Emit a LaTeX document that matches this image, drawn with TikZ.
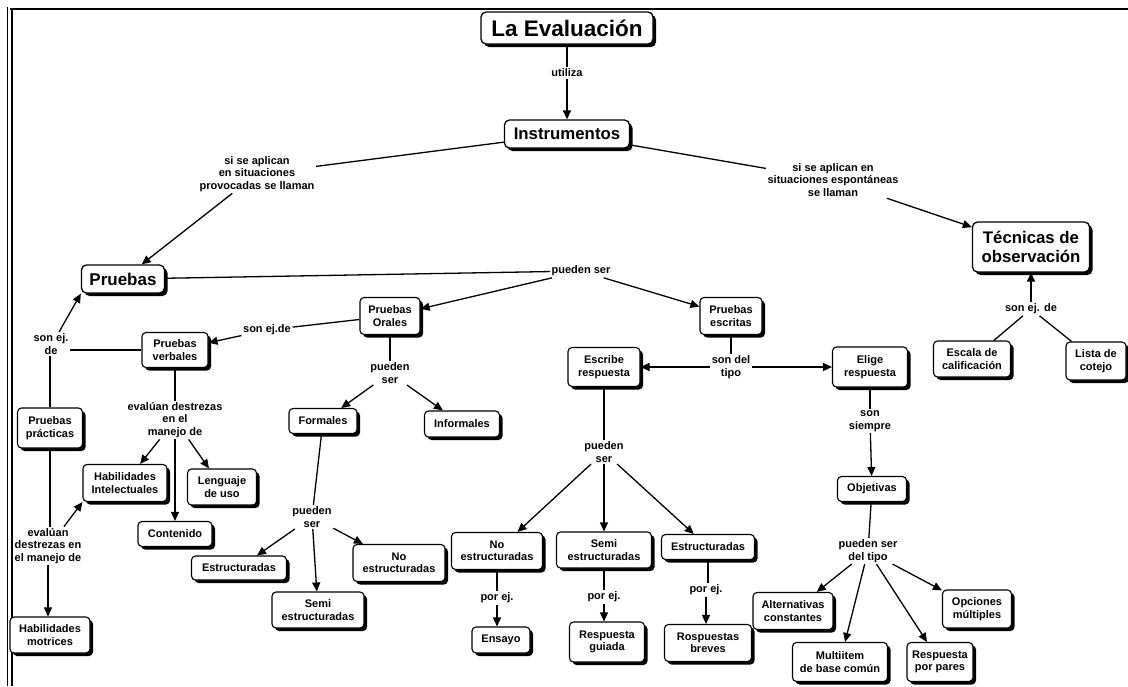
\documentclass[tikz,border=0pt]{standalone}
\usepackage{fontspec}
\setmainfont{Liberation Sans}
\usetikzlibrary{shadows,arrows.meta,calc}
\begin{document}
\begin{tikzpicture}[x=1pt,y=-1pt,
  box/.style={draw, line width=1.1pt, rounded corners=4pt, fill=white, align=center, inner sep=1pt,
     font=\bfseries\fontsize{11}{12.5}\selectfont,
     drop shadow={shadow xshift=3pt, shadow yshift=-3pt, fill=black, opacity=1}},
  bigbox/.style={box, line width=1.3pt, rounded corners=5pt},
  lbl/.style={align=center, inner sep=1.5pt, font=\bfseries\fontsize{11}{12.5}\selectfont},
  conn/.style={line width=1.3pt},
  arr/.style={line width=1.3pt, -{Triangle[length=9pt,width=8pt]}},
]
\useasboundingbox (0,0) rectangle (1128,686);
% frame
\draw[line width=2.5pt] (10,9) -- (1128,9);
\draw[line width=0.9pt] (7,7) -- (7,686);
\draw[line width=2pt] (12,9) -- (12,686);

% main boxes
\node[bigbox, font=\bfseries\fontsize{22.5}{24}\selectfont, minimum width=172, minimum height=32] (eval) at (567,28) {La Evaluación};
\node[bigbox, font=\bfseries\fontsize{16.8}{19}\selectfont, minimum width=125, minimum height=28] (instr) at (567,134) {Instrumentos};
\node[bigbox, font=\bfseries\fontsize{16.8}{19}\selectfont, minimum width=117, minimum height=50] (tecn) at (1031,247) {Técnicas de\\observación};
\node[bigbox, font=\bfseries\fontsize{17}{19}\selectfont, minimum width=83, minimum height=28] (pruebas) at (123,279) {Pruebas};

\node[box, minimum width=77, minimum height=36] (escala) at (972,359) {Escala de\\calificación};
\node[box, minimum width=60, minimum height=38] (lista) at (1096,361) {Lista de\\cotejo};

\node[box, minimum width=60, minimum height=37] (orales) at (390,316) {Pruebas\\Orales};
\node[box, minimum width=66, minimum height=35] (verbales) at (175,350) {Pruebas\\verbales};
\node[box, minimum width=65, minimum height=40] (practicas) at (50,428) {Pruebas\\prácticas};
\node[box, minimum width=84, minimum height=37] (hint) at (125,483) {Habilidades\\Intelectuales};
\node[box, minimum width=69, minimum height=36] (lenguaje) at (222,487) {Lenguaje\\de uso};
\node[box, minimum width=74, minimum height=25] (contenido) at (175,534) {Contenido};
\node[box, minimum width=80, minimum height=36] (hmot) at (50,635) {Habilidades\\motrices};

\node[box, minimum width=68, minimum height=25] (formales) at (323,421) {Formales};
\node[box, minimum width=75, minimum height=26] (informales) at (462,424) {Informales};
\node[box, minimum width=95, minimum height=24] (estrL) at (239,568) {Estructuradas};
\node[box, minimum width=92, minimum height=36] (semiL) at (318,610) {Semi\\estructuradas};
\node[box, minimum width=92, minimum height=37] (noL) at (399,563) {No\\estructuradas};

\node[box, minimum width=62, minimum height=37] (escritas) at (731,316) {Pruebas\\escritas};
\node[box, minimum width=72, minimum height=39] (escribe) at (604,367) {Escribe\\respuesta};
\node[box, minimum width=75, minimum height=40] (elige) at (870,367) {Elige\\respuesta};

\node[box, minimum width=91, minimum height=37] (noM) at (497,551) {No\\estructuradas};
\node[box, minimum width=95, minimum height=36] (semiM) at (604,550) {Semi\\estructuradas};
\node[box, minimum width=93, minimum height=25] (estrM) at (708,547) {Estructuradas};
\node[box, minimum width=58, minimum height=26] (ensayo) at (501,640) {Ensayo};
\node[box, minimum width=75, minimum height=40] (rguiada) at (607,642) {Respuesta\\guiada};
\node[box, minimum width=87, minimum height=37] (rbreves) at (708,643) {Rospuestas\\breves};

\node[box, minimum width=69, minimum height=25] (objetivas) at (872,489) {Objetivas};
\node[box, minimum width=80, minimum height=37] (alt) at (793,611) {Alternativas\\constantes};
\node[box, minimum width=95, minimum height=39] (multi) at (840,662) {Multiitem\\de base común};
\node[box, minimum width=66, minimum height=39] (rpares) at (940,662) {Respuesta\\por pares};
\node[box, minimum width=69, minimum height=38] (opciones) at (977,609) {Opciones\\múltiples};

% labels
\node[lbl] (utiliza) at (567,73) {utiliza};
\node[lbl] (lblProv) at (257,174) {si se aplican\\en situaciones\\provocadas se llaman};
\node[lbl] (lblEsp) at (833,180) {si se aplican en\\situaciones espontáneas\\se llaman};
\node[lbl] (sonEjTec) at (1031,309) {son ej. de};
\node[lbl] (puedenTop) at (581,271) {pueden ser};
\node[lbl] (sonEjOr) at (267,330) {son ej.de};
\node[lbl] (sonEjLeft) at (51,344) {son ej.\\de};
\node[lbl] (evalV) at (175,420) {evalúan destrezas\\en el\\manejo de};
\node[lbl] (evalP) at (48,546) {evalúan\\destrezas en\\el manejo de};
\node[lbl] (puedenOr) at (390,373) {pueden\\ser};
\node[lbl] (puedenF) at (312,517) {pueden\\ser};
\node[lbl] (sonDel) at (731,367) {son del\\tipo};
\node[lbl] (puedenE) at (604,452) {pueden\\ser};
\node[lbl] (porej1) at (497,598) {por ej.};
\node[lbl] (porej2) at (604,597) {por ej.};
\node[lbl] (porej3) at (706,590) {por ej.};
\node[lbl] (sonSiempre) at (870,421) {son\\siempre};
\node[lbl] (puedenTipo) at (868,551) {pueden ser\\del tipo};

% connectors
\draw[conn] (eval) -- (utiliza);
\draw[arr] (utiliza) -- (instr);
\draw[conn] (instr) -- (lblProv);
\draw[arr] (lblProv) -- (pruebas);
\draw[conn] (instr) -- (lblEsp);
\draw[arr] (lblEsp) -- (tecn);
\draw[arr] (sonEjTec) -- (tecn);
\draw[conn] (escala) -- (sonEjTec);
\draw[conn] (lista) -- (sonEjTec);

\draw[conn] (pruebas) -- (puedenTop);
\draw[arr] (puedenTop) -- (orales);
\draw[arr] (puedenTop) -- (escritas);

\draw[conn] (orales) -- (sonEjOr);
\draw[arr] (sonEjOr) -- (verbales);
\draw[conn] (verbales.west) -- (verbales.west -| sonEjLeft.east);
\draw[conn] (practicas.north) -- (practicas.north |- sonEjLeft.south);
\draw[arr] ($(sonEjLeft.north)+(8,0)$) -- (pruebas.south west);
\draw[conn] (verbales) -- (evalV);
\draw[arr] (evalV) -- (hint);
\draw[arr] (evalV) -- (contenido);
\draw[arr] (evalV) -- (lenguaje);
\draw[conn] (practicas.south) -- (practicas.south |- evalP.north);
\draw[arr] ($(evalP.north)+(16,0)$) -- (hint.south west);
\draw[arr] (evalP.south) -- (evalP.south |- hmot.north);

\draw[conn] (orales) -- (puedenOr);
\draw[arr] (puedenOr) -- (formales);
\draw[arr] (puedenOr) -- (informales);
\draw[conn] (formales) -- (puedenF);
\draw[arr] (puedenF) -- (estrL);
\draw[arr] (puedenF) -- (semiL);
\draw[arr] (puedenF) -- (noL);

\draw[conn] (escritas) -- (sonDel);
\draw[arr] (sonDel) -- (escribe);
\draw[arr] (sonDel) -- (elige);
\draw[conn] (escribe) -- (puedenE);
\draw[arr] (puedenE) -- (noM);
\draw[arr] (puedenE) -- (semiM);
\draw[arr] (puedenE) -- (estrM);
\draw[conn] (noM.south) -- (noM.south |- porej1.north);
\draw[arr] (porej1.south) -- (porej1.south |- ensayo.north);
\draw[conn] (semiM.south) -- (semiM.south |- porej2.north);
\draw[arr] (porej2.south) -- (porej2.south |- rguiada.north);
\draw[conn] (estrM.south) -- (estrM.south |- porej3.north);
\draw[arr] (porej3.south) -- (porej3.south |- rbreves.north);

\draw[conn] (elige) -- (sonSiempre);
\draw[arr] (sonSiempre) -- (objetivas);
\draw[conn] (objetivas) -- (puedenTipo);
\draw[arr] (puedenTipo) -- (alt);
\draw[arr] (puedenTipo) -- (multi);
\draw[arr] (puedenTipo) -- (rpares);
\draw[arr] (puedenTipo) -- (opciones);
\end{tikzpicture}
\end{document}
